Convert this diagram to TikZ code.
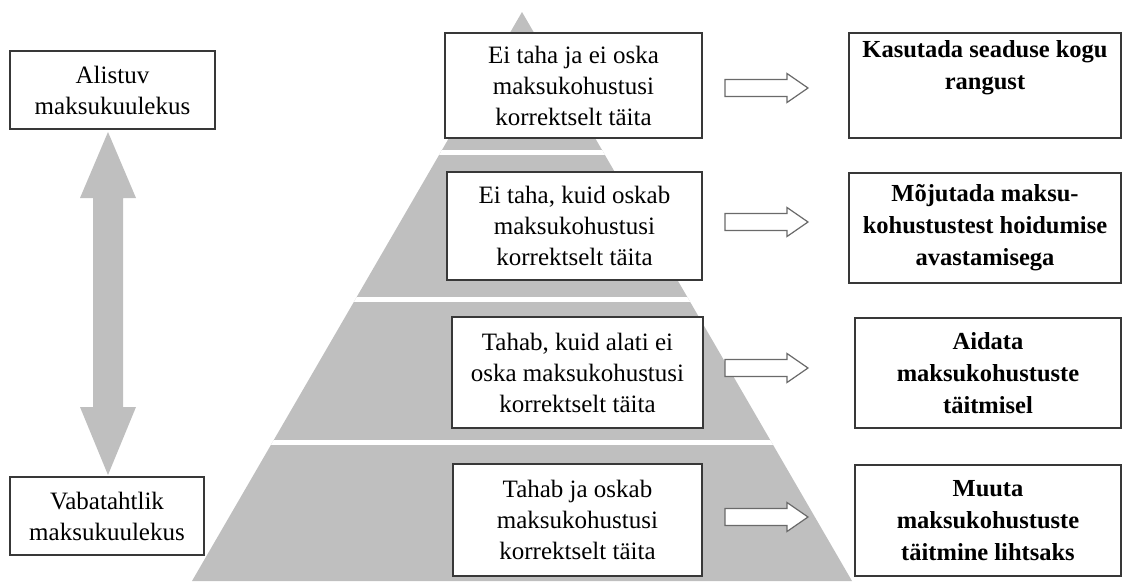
\documentclass[tikz,border=0pt]{standalone}
\usepackage{fontspec}
\setmainfont{Liberation Serif}
\usetikzlibrary{calc}
\definecolor{pyr}{HTML}{BFBFBF}
\definecolor{boxline}{HTML}{383838}
\definecolor{arrline}{HTML}{6A6A6A}
\tikzset{
  txt/.style={font=\fontsize{25}{31}\selectfont, align=center, inner sep=0pt},
  boldtxt/.style={font=\fontsize{24.5}{32}\selectfont\bfseries, align=center, inner sep=0pt},
  cbox/.style={draw=boxline, line width=1.3pt, fill=white, txt},
  rbox/.style={draw=boxline, line width=1.3pt, fill=white, boldtxt},
  blockarr/.style={draw=arrline, line width=1.2pt, fill=white, line join=miter},
}
\newcommand\blockarrow[1]{%
  \draw[blockarr] (#1) ++(0,-8.5) -- ++(62,0) -- ++(0,-6) -- ++(21,14.5)
    -- ++(-21,14.5) -- ++(0,-6) -- ++(-62,0) -- cycle;}
\begin{document}
\begin{tikzpicture}[x=1pt,y=-1pt]
\useasboundingbox (0,0) rectangle (1123,581);
% pyramid
\coordinate (apex) at (522,12);
\coordinate (bl) at (192,581);
\coordinate (br) at (852,581);
\fill[pyr] (apex) -- (br) -- (bl) -- cycle;
\begin{scope}
  \clip (apex) -- (br) -- (bl) -- cycle;
  \fill[white] (150,150) rectangle (900,155);
  \fill[white] (150,296.5) rectangle (900,301.5);
  \fill[white] (150,440) rectangle (900,445);
\end{scope}
% left boxes
\node[cbox, minimum width=205, minimum height=78] (la) at (112.5,90) {Alistuv\\maksukuulekus};
\node[cbox, minimum width=194, minimum height=78] (lv) at (107,516) {Vabatahtlik\\maksukuulekus};
% double arrow
\coordinate (dtop) at (108,132);
\coordinate (dbot) at (108,475);
\fill[pyr] (dtop) -- ++(28,66) -- ++(-13,0) -- ++(0,209) -- ++(13,0) -- (dbot)
  -- ++(-28,-68) -- ++(13,0) -- ++(0,-209) -- ++(-13,0) -- cycle;
% centre boxes
\node[cbox, minimum width=257, minimum height=105] (c1) at (573.5,85.5)
  {Ei taha ja ei oska\\maksukohustusi\\korrektselt täita};
\node[cbox, minimum width=255, minimum height=108] (c2) at (574.5,226)
  {Ei taha, kuid oskab\\maksukohustusi\\korrektselt täita};
\node[cbox, minimum width=251, minimum height=111] (c3) at (577.5,372.5)
  {Tahab, kuid alati ei\\oska maksukohustusi\\korrektselt täita};
\node[cbox, minimum width=249, minimum height=112] (c4) at (577.5,520)
  {Tahab ja oskab\\maksukohustusi\\korrektselt täita};
% right boxes
\node[rbox, minimum width=272, minimum height=105] (r1) at (985,85.5)
  {Kasutada seaduse kogu\\rangust\\\strut};
\node[rbox, minimum width=272, minimum height=110] (r2) at (985,228)
  {Mõjutada maksu-\\kohustustest hoidumise\\avastamisega};
\node[rbox, minimum width=266, minimum height=110] (r3) at (988,373)
  {Aidata\\maksukohustuste\\täitmisel};
\node[rbox, minimum width=266, minimum height=111] (r4) at (988,520.5)
  {Muuta\\maksukohustuste\\täitmine lihtsaks};
% block arrows
\blockarrow{725,88}
\blockarrow{725,222}
\blockarrow{725,368}
\blockarrow{725,517}
\end{tikzpicture}
\end{document}
